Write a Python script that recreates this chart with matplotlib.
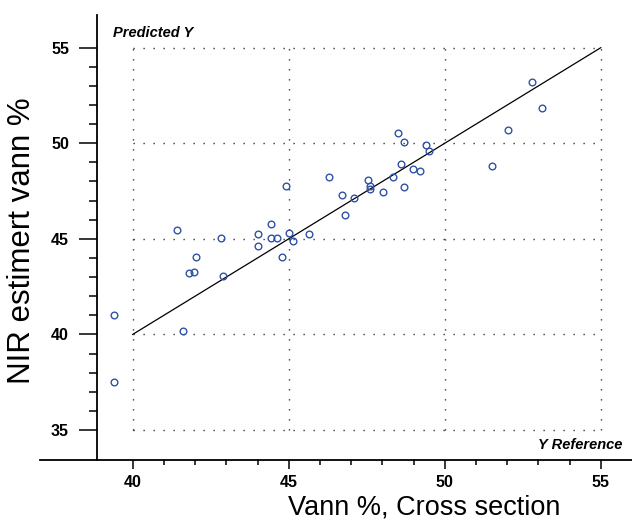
import matplotlib
matplotlib.use("Agg")
import matplotlib.pyplot as plt
from matplotlib.ticker import FixedLocator
from matplotlib import font_manager

# ---- data ----
x_reference = [39.41, 39.41, 41.60, 41.43, 42.82, 42.03, 41.82, 41.95, 42.91, 44.00,
               44.00, 44.43, 44.43, 44.62, 45.02, 45.14, 44.80, 45.64, 46.81,
               52.81, 53.11, 52.03, 51.51, 48.49, 48.71, 49.40, 49.49, 48.61, 48.99,
               49.20, 48.33, 48.70, 46.30, 44.92, 47.53, 47.59, 47.59, 48.03, 46.72, 47.08]
y_predicted = [41.00, 37.52, 40.17, 45.45, 45.07, 44.06, 43.21, 43.28, 43.07, 45.24,
               44.62, 45.76, 45.02, 45.07, 45.31, 44.91, 44.06, 45.24, 46.25,
               53.22, 51.86, 50.67, 48.80, 50.53, 50.07, 49.89, 49.59, 48.92, 48.67,
               48.53, 48.23, 47.70, 48.23, 47.76, 48.09, 47.79, 47.61, 47.44, 47.30, 47.16]
target_line = [40, 55]
x_ticks = [40, 45, 50, 55]
y_ticks = [35, 40, 45, 50, 55]
x_minor = [41, 42, 43, 44, 46, 47, 48, 49, 51, 52, 53, 54]
y_minor = [36, 37, 38, 39, 41, 42, 43, 44, 46, 47, 48, 49, 51, 52, 53, 54]

names = {f.name for f in font_manager.fontManager.ttflist}
base = "Liberation Sans" if "Liberation Sans" in names else "DejaVu Sans"

fig = plt.figure(figsize=(6.32, 5.20), dpi=100)
ax = fig.add_axes([40 / 632, 60 / 520, 592 / 632, 445 / 520])
ax.set_xlim(37.03, 56.0)
ax.set_ylim(33.43, 56.71)

# grid (dotted, only inside the 40-55 / 35-55 box)
grid_kw = dict(color="#222222", linewidth=1.0, linestyles=[(0, (0.9, 6.3))], zorder=1)
ax.hlines(y_ticks, x_ticks[0], x_ticks[-1], **grid_kw)
ax.vlines(x_ticks, y_ticks[0], y_ticks[-1], **grid_kw)

# target line
ax.plot(target_line, target_line, color="black", linewidth=0.9, zorder=2)

# points
ax.plot(x_reference, y_predicted, linestyle="none", marker="o", markersize=4.8,
        markerfacecolor="none", markeredgecolor="#2f52a3", markeredgewidth=1.0, zorder=3)

# spines
for s in ["top", "right"]:
    ax.spines[s].set_visible(False)
ax.spines["left"].set_position(("data", 38.85))
ax.spines["left"].set_linewidth(1.3)
ax.spines["bottom"].set_linewidth(1.3)

ax.xaxis.set_major_locator(FixedLocator(x_ticks))
ax.yaxis.set_major_locator(FixedLocator(y_ticks))
ax.xaxis.set_minor_locator(FixedLocator(x_minor))
ax.yaxis.set_minor_locator(FixedLocator(y_minor))
ax.tick_params(axis="y", which="major", direction="out", length=13, width=1.1, pad=7)
ax.tick_params(axis="y", which="minor", direction="out", length=6, width=1.1)
ax.tick_params(axis="x", which="major", direction="out", length=6.5, width=1.1, pad=4)
ax.tick_params(axis="x", which="minor", direction="out", length=3.6, width=1.1)
for lab in ax.get_xticklabels() + ax.get_yticklabels():
    lab.set_fontfamily(base)
    lab.set_fontweight("bold")
    lab.set_fontsize(11.5)

ax.text(113 / 632, 1 - 33 / 520, "Predicted Y", transform=fig.transFigure,
        fontsize=10.5, fontweight="bold", fontstyle="italic", family=base,
        ha="left", va="center")
ax.text(622 / 632, 1 - 445 / 520, "Y Reference", transform=fig.transFigure,
        fontsize=10.5, fontweight="bold", fontstyle="italic", family=base,
        ha="right", va="center")

fig.text(22 / 632, 1 - 241 / 520, "NIR estimert vann %", rotation=90,
         fontsize=22.5, family=base, ha="center", va="center")
fig.text(424 / 632, 1 - 507 / 520, "Vann %, Cross section",
         fontsize=19.5, family=base, ha="center", va="center")

fig.savefig("out.png", dpi=100)
